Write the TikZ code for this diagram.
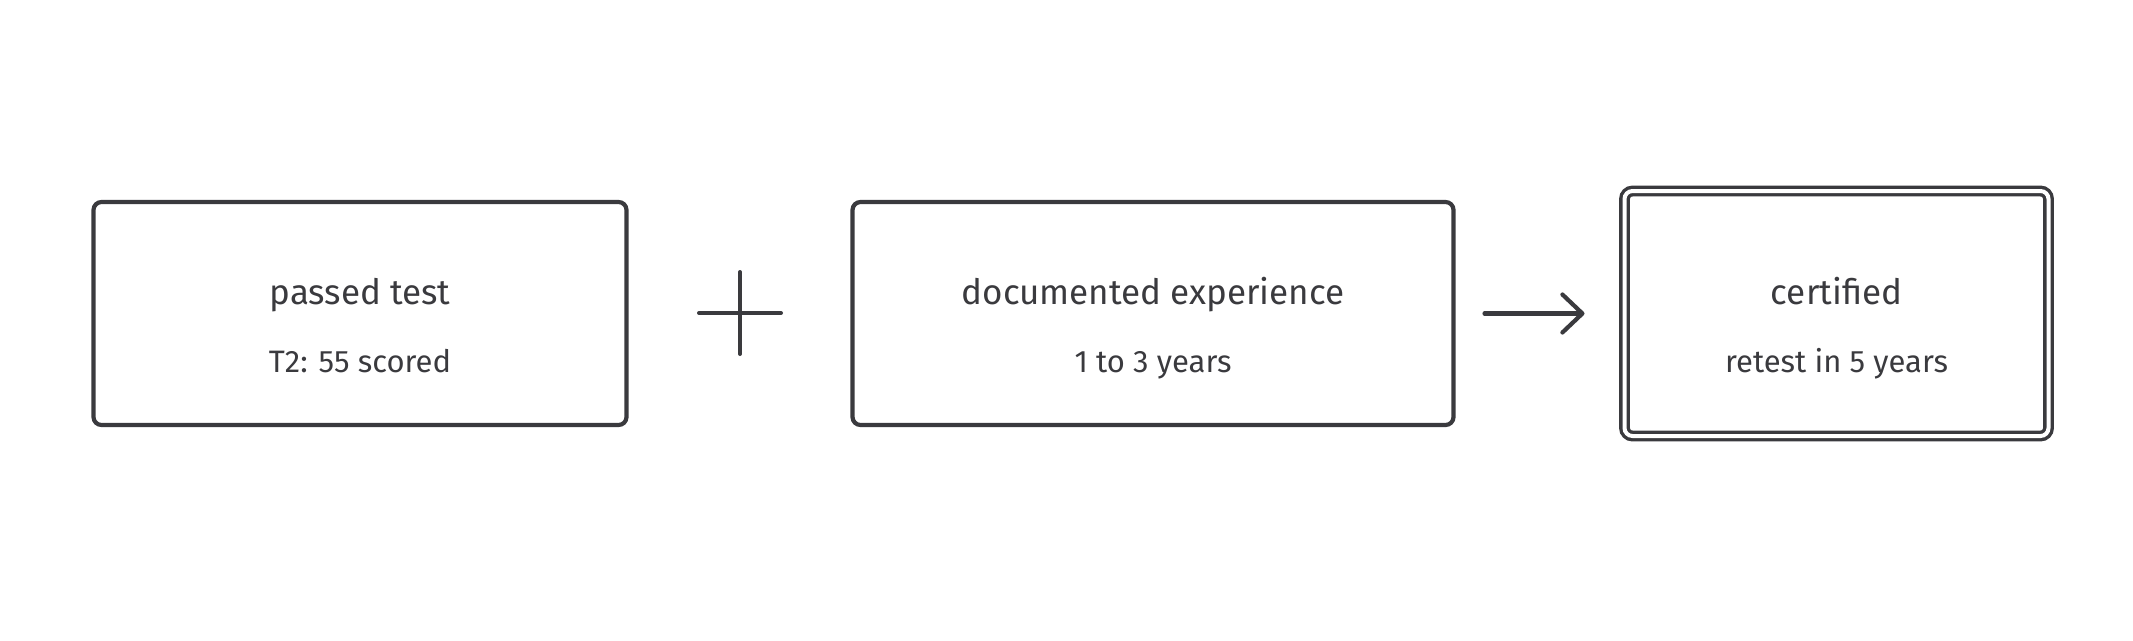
\documentclass[tikz,border=0pt]{standalone}
\usepackage{fontspec}
\setmainfont{Fira Sans}
\usepackage{tikz}
\usetikzlibrary{arrows.meta, positioning}
\usepackage{xcolor}

\begin{document}
\begin{tikzpicture}[x=1pt, y=-1pt,
    card/.style={draw=ink, line width=4.2pt, rounded corners=8pt, inner sep=0pt, outer sep=0pt, minimum height=223pt},
    title/.style={text=ink, font=\fontsize{35}{40}\selectfont, inner sep=0pt, anchor=base},
    sub/.style={text=ink, font=\fontsize{31}{36}\selectfont, inner sep=0pt, anchor=base},
    flow/.style={draw=ink, line width=4.2pt, line cap=round, -{Straight Barb[length=20pt, width=38pt, line cap=round, line join=round]}}]

% --- COLOURS ---
\definecolor{ink}{RGB}{58, 58, 62}   % dark grey strokes and text

\useasboundingbox (0,0) rectangle (2133,640);

% --- PASSED TEST (Left) ---
\node[card, minimum width=533pt] (pass) at (360,313.5) {};
\node[title] (passT) at (360,304) {passed test};
\node[sub] (passS) at (360,372) {T2: 55 scored};

% --- PLUS SIGN ---
\draw[ink, line width=4pt, line cap=round] (699,313) -- (781,313);
\draw[ink, line width=4pt, line cap=round] (740,272) -- (740,354);

% --- DOCUMENTED EXPERIENCE (Middle) ---
\node[card, minimum width=601pt] (exper) at (1153,313.5) {};
\node[title] (experT) at (1153,304) {documented experience};
\node[sub] (experS) at (1153,372) {1 to 3 years};

% --- CERTIFIED (Right) ---
\node[card, double=white, double distance=4pt, line width=3.4pt, minimum width=424pt, minimum height=245pt] (cert) at (1836.5,313.5) {};
\node[title] (certT) at (1836.5,304) {certified};
\node[sub] (certS) at (1836.5,372) {retest in 5 years};

% --- ARROW ---
\draw[flow] ([xshift=31pt]exper.east) -- ([xshift=-40pt]cert.west);

\end{tikzpicture}
\end{document}
